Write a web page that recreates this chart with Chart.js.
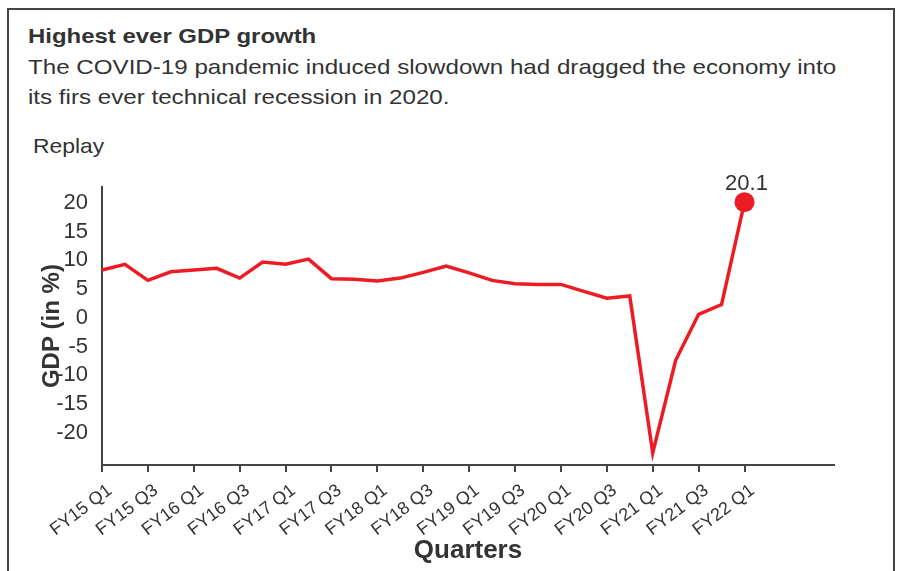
<!DOCTYPE html>
<html>
<head>
<meta charset="utf-8">
<script src="https://cdn.jsdelivr.net/npm/chart.js@4.4.0/dist/chart.umd.min.js"></script>
<style>
  body { margin: 0; background: #fff; font-family: "Liberation Sans", Arial, Helvetica, sans-serif; color: #333; }
  .frame { position: absolute; left: 7px; top: 8px; width: 884px; height: 600px; border: 2px solid #444; border-bottom: none; }
  .title { position: absolute; left: 28px; top: 24px; font-size: 21px; font-weight: bold; color: #333; transform: scaleX(1.14); transform-origin: left top; white-space: nowrap; }
  .sub { position: absolute; left: 28px; top: 52px; font-size: 21px; line-height: 30px; color: #333; width: 725px; transform: scaleX(1.15); transform-origin: left top; }
  .replay { position: absolute; left: 33px; top: 134px; font-size: 21px; color: #333; transform: scaleX(1.09); transform-origin: left top; }
  #chart { position: absolute; left: 8px; top: 160px; }
</style>
</head>
<body>
<div class="frame"></div>
<div class="title">Highest ever GDP growth</div>
<div class="sub">The COVID-19 pandemic induced slowdown had dragged the economy into its firs ever technical recession in 2020.</div>
<div class="replay">Replay</div>
<canvas id="chart" width="880" height="411"></canvas>
<script>
  // quarterly GDP growth, FY15 Q1 .. FY22 Q1
  const quarters = [
    'FY15 Q1', 'FY15 Q2', 'FY15 Q3', 'FY15 Q4',
    'FY16 Q1', 'FY16 Q2', 'FY16 Q3', 'FY16 Q4',
    'FY17 Q1', 'FY17 Q2', 'FY17 Q3', 'FY17 Q4',
    'FY18 Q1', 'FY18 Q2', 'FY18 Q3', 'FY18 Q4',
    'FY19 Q1', 'FY19 Q2', 'FY19 Q3', 'FY19 Q4',
    'FY20 Q1', 'FY20 Q2', 'FY20 Q3', 'FY20 Q4',
    'FY21 Q1', 'FY21 Q2', 'FY21 Q3', 'FY21 Q4',
    'FY22 Q1'
  ];
  const gdpGrowth = [
    8.3, 9.3, 6.5, 8.0,
    8.3, 8.6, 6.9, 9.7,
    9.3, 10.2, 6.8, 6.7,
    6.4, 6.9, 7.9, 9.0,
    7.8, 6.5, 5.9, 5.8,
    5.8, 4.6, 3.4, 3.8,
    -23.5, -7.4, 0.6, 2.3,
    20.1
  ];
  const yTicks = [-20, -15, -10, -5, 0, 5, 10, 15, 20];

  const lastIdx = gdpGrowth.length - 1;
  const points = gdpGrowth.map((v, i) => ({ x: i, y: v }));

  // label above the final point
  const lastLabel = {
    id: 'lastLabel',
    afterDatasetsDraw(chart) {
      const pt = chart.getDatasetMeta(0).data[lastIdx];
      const ctx = chart.ctx;
      ctx.save();
      ctx.fillStyle = '#333';
      ctx.font = '22px "Liberation Sans", Arial, sans-serif';
      ctx.textAlign = 'center';
      ctx.textBaseline = 'alphabetic';
      ctx.fillText(String(gdpGrowth[lastIdx]), pt.x + 2, pt.y - 12);
      ctx.restore();
    }
  };

  const ctx = document.getElementById('chart').getContext('2d');
  const chart = new Chart(ctx, {
    type: 'line',
    data: {
      datasets: [{
        data: points,
        borderColor: '#ed1c24',
        borderWidth: 3.5,
        backgroundColor: '#ed1c24',
        pointRadius: c => c.dataIndex === lastIdx ? 10 : 0,
        pointHoverRadius: 0,
        pointBorderWidth: 0,
        tension: 0,
        clip: false
      }]
    },
    options: {
      responsive: false,
      animation: false,
      layout: { padding: { top: 25, right: 54, left: 0, bottom: 0 } },
      plugins: { legend: { display: false }, tooltip: { enabled: false } },
      scales: {
        x: {
          type: 'linear',
          min: 0,
          max: 31.9,
          afterBuildTicks: s => { s.ticks = quarters.map((q, i) => ({ value: i })).filter(t => t.value % 2 === 0); },
          afterFit: s => { s.height = 106; },
          ticks: {
            autoSkip: false,
            minRotation: 37,
            maxRotation: 37,
            color: '#333',
            padding: 8,
            labelOffset: 8,
            font: { size: 18, family: '"Liberation Sans", Arial, sans-serif' },
            callback: v => quarters[v]
          },
          grid: { display: true, drawOnChartArea: false, drawTicks: true, tickLength: 7, color: '#444', lineWidth: 2 },
          border: { display: true, color: '#444', width: 2 },
          title: {
            display: true,
            text: 'Quarters',
            color: '#333',
            padding: { bottom: 5 },
            font: { size: 26, weight: 'bold', family: '"Liberation Sans", Arial, sans-serif' }
          }
        },
        y: {
          min: -25.6,
          max: 22.7,
          afterBuildTicks: s => { s.ticks = yTicks.map(v => ({ value: v })); },
          afterFit: s => { s.width = 94; },
          ticks: {
            color: '#333',
            padding: 14,
            font: { size: 22, family: '"Liberation Sans", Arial, sans-serif' }
          },
          grid: { display: false, drawTicks: false },
          border: { display: true, color: '#444', width: 2 },
          title: {
            display: true,
            text: 'GDP (in %)',
            color: '#333',
            padding: { top: 30 },
            font: { size: 24, weight: 'bold', family: '"Liberation Sans", Arial, sans-serif' }
          }
        }
      }
    },
    plugins: [lastLabel]
  });
</script>
</body>
</html>
